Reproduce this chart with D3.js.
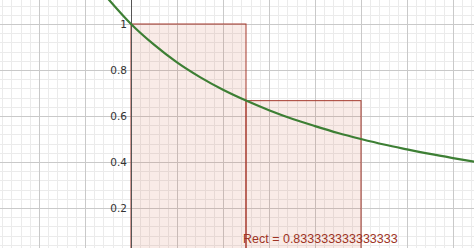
<!DOCTYPE html>
<html>
<head>
<meta charset="utf-8">
<script src="https://cdn.jsdelivr.net/npm/d3@7"></script>
<style>
  body { margin: 0; background: #fff; }
  svg { display: block; }
</style>
</head>
<body>
<div id="chart"></div>
<script>
const WIDTH = 474;
const HEIGHT = 248;

// curve points
const curveX = [-0.1, 0, 0.1, 0.2, 0.3, 0.4, 0.5, 0.6, 0.7, 0.8, 0.9, 1.0, 1.1, 1.2, 1.3, 1.4, 1.5];
const curveY = [1.11, 1.0, 0.91, 0.833, 0.769, 0.714, 0.667, 0.625, 0.588, 0.556, 0.526, 0.5, 0.476, 0.455, 0.435, 0.417, 0.4];

// rectangles (left edge, width, height)
const rectLeft = [0, 0.5];
const rectWidth = [0.5, 0.5];
const rectHeight = [1, 0.6667];

const yTicks = [0.2, 0.4, 0.6, 0.8, 1];
const rectLabel = "Rect = 0.833333333333333";

const svg = d3
  .select("#chart")
  .append("svg")
  .attr("width", WIDTH)
  .attr("height", HEIGHT);

// 1 unit = 230px, origin at (131, 254)
const xScale = d3.scaleLinear().domain([-131 / 230, (WIDTH - 131) / 230]).range([0, WIDTH]);
const yScale = d3.scaleLinear().domain([(254 - HEIGHT) / 230, 254 / 230]).range([HEIGHT, 0]);

// grid
const minor = d3.range(-15, 40).map((i) => i * 0.04);
const major = d3.range(-3, 9).map((i) => i * 0.2);

const grid = svg.append("g");
grid.selectAll(".vminor").data(minor).join("line")
  .attr("x1", (d) => Math.round(xScale(d)) + 0.5).attr("x2", (d) => Math.round(xScale(d)) + 0.5)
  .attr("y1", 0).attr("y2", HEIGHT)
  .attr("stroke", "#ebebeb").attr("stroke-width", 1);
grid.selectAll(".hminor").data(minor).join("line")
  .attr("y1", (d) => Math.round(yScale(d)) + 0.5).attr("y2", (d) => Math.round(yScale(d)) + 0.5)
  .attr("x1", 0).attr("x2", WIDTH)
  .attr("stroke", "#ebebeb").attr("stroke-width", 1);
grid.selectAll(".vmajor").data(major).join("line")
  .attr("x1", (d) => Math.round(xScale(d)) + 0.5).attr("x2", (d) => Math.round(xScale(d)) + 0.5)
  .attr("y1", 0).attr("y2", HEIGHT)
  .attr("stroke", "#c9c9c9").attr("stroke-width", 1);
grid.selectAll(".hmajor").data(major).join("line")
  .attr("y1", (d) => Math.round(yScale(d)) + 0.5).attr("y2", (d) => Math.round(yScale(d)) + 0.5)
  .attr("x1", 0).attr("x2", WIDTH)
  .attr("stroke", "#c9c9c9").attr("stroke-width", 1);

// rectangles
svg.append("g")
  .selectAll("rect")
  .data(rectLeft)
  .join("rect")
  .attr("x", (d) => xScale(d))
  .attr("y", (d, i) => yScale(rectHeight[i]))
  .attr("width", (d, i) => xScale(d + rectWidth[i]) - xScale(d))
  .attr("height", (d, i) => yScale(0) - yScale(rectHeight[i]))
  .attr("fill", "rgba(205, 90, 60, 0.12)")
  .attr("stroke", "#a5392c")
  .attr("stroke-width", 1);

// y axis
svg.append("line")
  .attr("x1", Math.round(xScale(0)) + 0.5).attr("x2", Math.round(xScale(0)) + 0.5)
  .attr("y1", 0).attr("y2", HEIGHT)
  .attr("stroke", "#555").attr("stroke-width", 1);

svg.append("g")
  .selectAll("text")
  .data(yTicks)
  .join("text")
  .attr("x", xScale(0) - 4)
  .attr("y", (d) => yScale(d))
  .attr("dy", "0.35em")
  .attr("text-anchor", "end")
  .attr("font-family", "DejaVu Sans, sans-serif")
  .attr("font-size", 10.5)
  .attr("fill", "#333")
  .text((d) => d);

// curve
const line = d3.line()
  .x((d) => xScale(d[0]))
  .y((d) => yScale(d[1]))
  .curve(d3.curveMonotoneX);

svg.append("path")
  .datum(curveX.map((x, i) => [x, curveY[i]]))
  .attr("d", line)
  .attr("fill", "none")
  .attr("stroke", "#3d7f34")
  .attr("stroke-width", 2.2);

// label
svg.append("text")
  .attr("x", 243)
  .attr("y", 243)
  .attr("font-family", "Liberation Sans, sans-serif")
  .attr("font-size", 12.5)
  .attr("fill", "#9e3324")
  .text(rectLabel);
</script>
</body>
</html>
